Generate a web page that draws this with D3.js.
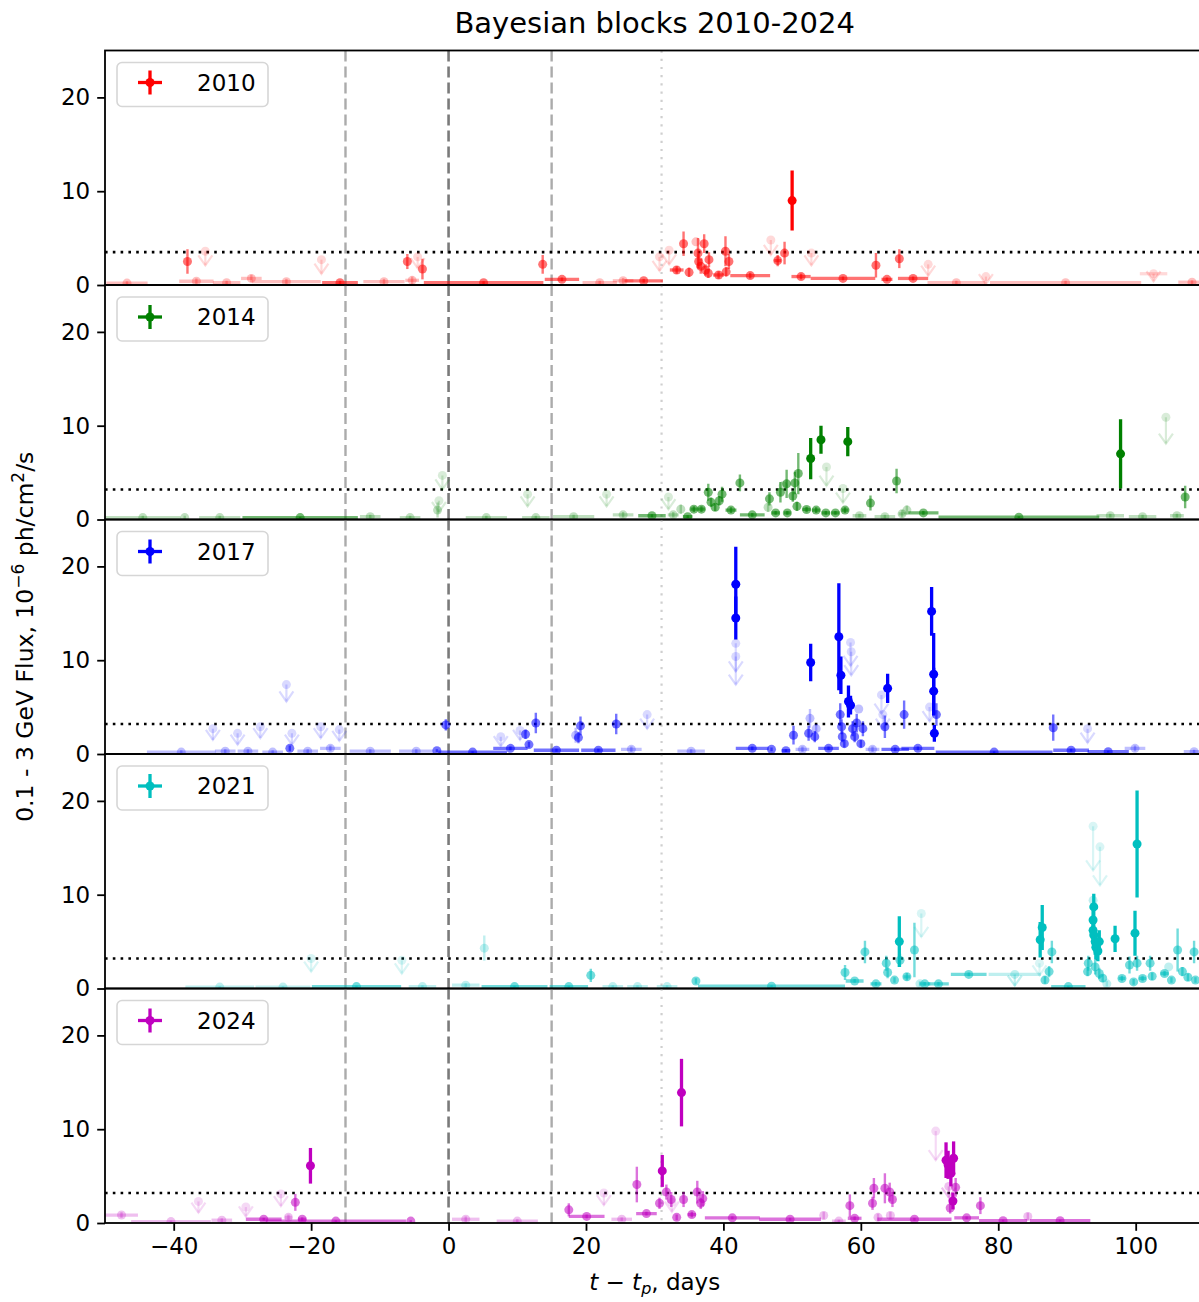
<!DOCTYPE html>
<html><head><meta charset="utf-8">
<script src="https://cdn.jsdelivr.net/npm/d3@7/dist/d3.min.js"></script>
<style>
body{margin:0;background:#fff}
svg{display:block}
text{font-family:"DejaVu Sans",sans-serif;fill:#000}
</style>
</head><body>
<svg id="chart" width="1199" height="1302"></svg>
<script>
// Bayesian-block light curves, one panel per year.
// Row layout: [t - t_p (days), flux (1e-6 ph/cm2/s), error (or arrow length for limits),
//              block half-width (days), significance class 0..3, upper limit flag]
const years = ["2010", "2014", "2017", "2021", "2024"];
const seriesColors = ["#ff0000", "#008000", "#0000ff", "#00bfbf", "#bf00bf"];
const thresholds = [3.5, 3.2, 3.2, 3.2, 3.2];
const refDays = [-15, 0, 15, 31];
const xTicks = [-40, -20, 0, 20, 40, 60, 80, 100];
const yTicks = [0, 10, 20];

const rows2010 = [
  [-46.8,0.2,0.2,3.0,1,0],[-38.0,2.5,1.3,0,2,0],[-36.7,0.4,0.3,2.5,1,0],[-35.4,3.6,1.5,0,0,1],
  [-32.3,0.25,0.2,2.0,1,0],[-28.7,0.7,0.4,1.5,1,0],[-23.6,0.35,0.3,5.0,1,0],[-18.5,2.7,1.5,0,0,1],
  [-15.8,0.25,0.2,2.6,2,0],[-9.4,0.35,0.3,3.0,1,0],[-6.0,2.5,0.8,0,2,0],[-5.3,0.5,0.4,1.0,1,0],
  [-4.5,3.0,1.2,0,0,1],[-3.8,1.7,1.1,0,2,0],[5.1,0.25,0.15,8.7,2,0],[13.7,2.2,1.0,0,2,0],
  [16.5,0.6,0.2,2.5,2,0],[22.0,0.25,0.2,2.5,1,0],[25.4,0.45,0.3,1.5,1,0],[28.4,0.45,0.2,2.8,2,0],
  [30.7,3.0,1.5,0,0,1],[32.1,3.7,1.5,0,0,1],[33.2,1.6,0.4,1.0,2,0],[34.2,4.4,1.3,0,2,0],
  [35.0,1.35,0.5,0,2,0],[36.0,4.6,0,0,1,0],[36.3,3.4,1.6,0,2,0],[36.4,2.5,0.8,0,2,0],
  [36.7,2.0,0.8,0,2,0],[37.2,4.4,1.0,0,2,0],[37.4,1.6,0.6,0,2,0],[37.8,1.25,0.5,0,2,0],
  [37.9,2.7,0.8,0,2,0],[39.3,1.07,0.4,0.8,2,0],[40.3,3.6,1.6,0,2,0],[40.4,1.4,0.5,0,2,0],
  [40.8,2.5,0.8,0,2,0],[43.9,1.0,0.3,2.9,2,0],[46.9,4.8,1.6,0,0,1],[47.9,2.6,0.6,0.5,2,0],
  [48.9,3.4,1.2,0,2,0],[50.0,9.0,3.2,0,3,0],[51.3,0.9,0.3,1.4,2,0],[52.8,3.4,1.3,0,0,1],
  [57.4,0.7,0.2,4.7,2,0],[62.2,2.1,1.3,0,2,0],[63.8,0.6,0.2,0.8,2,0],[65.6,2.8,1.0,0,2,0],
  [67.6,0.7,0.2,2.2,2,0],[69.8,2.2,1.2,0,0,1],[73.9,0.25,0.2,4.2,1,0],[78.2,0.9,0.8,0,0,1],
  [89.8,0.25,0.2,11,1,0],[102.6,1.2,0.8,2.0,0,1],[108.2,0.3,0.2,2.0,1,0]
];
const rows2014 = [
  [-44.5,0.2,0.2,5.5,1,0],[-38.4,0.2,0.2,0,1,0],[-33.3,0.2,0.2,3.0,1,0],[-21.6,0.2,0.1,8.4,2,0],
  [-11.4,0.3,0.2,1.5,1,0],[-5.6,0.2,0.2,1.5,1,0],[-1.6,1.0,0.8,0,1,0],[-1.4,2.0,1.2,0,0,1],
  [-0.9,4.7,1.5,0,0,1],[5.5,0.2,0.2,3.0,1,0],[11.5,2.7,1.3,0,0,1],[12.7,0.2,0.2,2.0,1,0],
  [18.2,0.3,0.2,3.0,1,0],[23.0,2.7,1.3,0,0,1],[25.4,0.5,0.3,1.5,1,0],[29.6,0.4,0.15,2.0,2,0],
  [32.0,2.4,1.3,0,0,1],[32.7,0.5,0.3,0.8,1,0],[33.8,1.1,0.5,0,1,0],[34.8,0.3,0.15,0.7,2,0],
  [35.7,1.1,0.3,0.5,2,0],[36.8,1.1,0.3,0.5,2,0],[37.8,2.9,0.9,0,2,0],[38.2,1.85,0.5,0,2,0],
  [38.8,1.3,0.4,0,2,0],[39.4,2.0,0.5,0,2,0],[39.8,2.7,0.8,0,2,0],[41.1,1.0,0.3,0.8,2,0],
  [42.4,3.9,0.9,0,2,0],[44.2,0.5,0.2,1.8,2,0],[46.7,2.2,0.7,0,2,0],[46.5,1.3,0.5,0,1,0],
  [47.6,0.7,0.2,0.6,2,0],[48.3,2.9,1.1,0,2,0],[48.7,3.6,0,0,1,0],[49.2,3.8,1.5,0,2,0],
  [49.3,0.7,0.2,0.5,2,0],[50.1,2.5,0.6,0,2,0],[50.4,3.9,1.2,0,2,0],[50.7,1.4,0.5,0,2,0],
  [50.9,4.9,2.2,0,2,0],[52.1,1.07,0.3,0.6,2,0],[52.7,6.5,2.2,0,3,0],[53.5,1.0,0.3,0.6,2,0],
  [54.2,8.5,1.5,0,3,0],[54.9,0.7,0.2,0.6,2,0],[55.0,5.6,2.0,0,0,1],[56.3,0.7,0.2,0.6,2,0],
  [57.4,3.3,1.5,0,0,1],[57.7,1.0,0.3,0.5,2,0],[58.1,8.3,1.55,0,3,0],[59.8,0.4,0.2,1.0,1,0],
  [61.4,1.75,0.8,0,2,0],[63.5,0.3,0.2,1.5,1,0],[65.2,4.1,1.3,0,2,0],[66.0,0.6,0.4,0.5,1,0],
  [66.7,1.0,0.5,0,1,0],[69.1,0.7,0.2,2.2,2,0],[83.0,0.25,0.1,11.7,2,0],[96.3,0.4,0.2,2.0,1,0],
  [97.8,7.0,3.7,0,3,0],[101.0,0.3,0.2,2.0,1,0],[104.4,10.9,2.8,0,0,1],[106.0,0.4,0.2,1.0,1,0],
  [107.2,2.4,1.2,0,2,0]
];
const rows2017 = [
  [-38.9,0.2,0.2,5.0,1,0],[-34.3,2.7,1.2,0,0,1],[-32.5,0.3,0.2,1.5,1,0],[-30.7,2.2,1.2,0,0,1],
  [-29.2,0.3,0.2,1.5,1,0],[-27.4,2.9,1.2,0,0,1],[-25.6,0.2,0.2,1.5,1,0],[-23.6,7.4,1.8,0,0,1],
  [-23.1,0.6,0.3,0,2,0],[-22.8,2.2,1.2,0,0,1],[-20.5,0.3,0.2,1.5,1,0],[-18.6,2.9,1.2,0,0,1],
  [-17.2,0.6,0.3,1.5,1,0],[-15.9,2.6,1.2,0,0,1],[-11.4,0.3,0.2,3.0,1,0],[-4.7,0.3,0.2,2.5,1,0],
  [-1.7,0.35,0.15,0,2,0],[-0.4,3.1,0.6,0,2,0],[3.5,0.2,0.1,5.0,2,0],[7.6,1.85,1.0,0,0,1],
  [9.0,0.6,0.2,2.5,2,0],[10.4,2.5,1.0,0,0,1],[11.2,2.1,0.5,0,2,0],[11.7,1.0,0.3,0,2,0],
  [12.7,3.3,1.1,0,2,0],[15.7,0.4,0.15,3.3,2,0],[18.5,2.0,0.8,0,1,0],[18.9,1.75,0.6,0,2,0],
  [19.2,3.0,1.0,0,2,0],[21.8,0.4,0.15,2.5,2,0],[24.4,3.2,1.1,0,2,0],[26.6,0.5,0.3,1.5,1,0],
  [28.9,4.2,1.5,0,0,1],[35.3,0.3,0.2,2.0,1,0],[41.8,18.1,4.0,0,3,0],[41.8,14.5,2.3,0,3,0],
  [41.8,11.8,3.0,0,0,1],[41.8,10.4,3.0,0,0,1],[44.2,0.6,0.2,2.4,2,0],[47.0,0.5,0.2,0,2,0],
  [49.1,0.35,0.15,0.6,2,0],[50.2,2.0,1.0,0,2,0],[51.5,0.5,0.3,1.0,1,0],[52.4,2.2,0.8,0,2,0],
  [52.6,3.8,1.0,0,1,0],[52.7,9.75,2.0,0,3,0],[53.3,1.85,0.6,0,2,0],[53.5,2.7,0.5,0,1,0],
  [55.3,0.6,0.2,1.5,2,0],[56.8,12.5,5.7,0,3,0],[57.0,4.2,1.2,0,2,0],[57.1,8.4,2.0,0,3,0],
  [57.2,2.9,0.8,0,2,0],[57.3,1.85,0.6,0,2,0],[57.6,1.1,0.4,0,2,0],[58.2,5.6,1.7,0,3,0],
  [58.5,5.2,1.0,0,3,0],[58.5,11.9,2.5,0,0,1],[58.6,10.9,2.5,0,0,1],[58.8,2.7,0.8,0,2,0],
  [59.1,1.85,0.6,0,2,0],[59.4,3.3,1.0,0,2,0],[59.7,4.8,0,0,1,0],[60.0,1.1,0.4,0,2,0],
  [60.3,2.7,0.8,0,2,0],[61.7,0.5,0.3,1.0,1,0],[63.0,6.3,2.0,0,0,1],[63.2,4.2,1.5,0,0,1],
  [63.5,2.9,1.2,0,2,0],[63.9,7.0,1.55,0,3,0],[65.0,0.5,0.2,2.0,2,0],[66.3,4.2,1.5,0,2,0],
  [68.3,0.6,0.2,2.4,2,0],[70.0,5.0,1.5,0,0,1],[70.3,15.2,2.6,0,3,0],[70.6,8.5,4.4,0,3,0],
  [70.6,6.7,2.5,0,3,0],[70.7,2.2,0.9,0,3,0],[71.0,4.2,1.2,0,2,0],[79.4,0.2,0.1,8.5,2,0],
  [88.0,2.8,1.4,0,2,0],[90.6,0.4,0.15,2.6,2,0],[93.0,2.7,1.5,0,0,1],[96.0,0.25,0.1,3.0,2,0],
  [99.9,0.6,0.3,1.5,1,0],[108.5,0.25,0.2,1.5,1,0]
];
const rows2021 = [
  [-33.3,0.15,0.1,5.0,1,0],[-24.1,0.15,0.1,4.0,1,0],[-20.0,3.2,1.4,0,0,1],[-13.4,0.2,0.1,6.5,2,0],
  [-6.8,3.0,1.4,0,0,1],[-3.8,0.2,0.15,2.0,1,0],[2.5,0.35,0.2,2.0,1,0],[5.2,4.3,1.35,0,1,0],
  [9.6,0.2,0.1,4.8,2,0],[17.5,0.2,0.1,2.8,2,0],[20.7,1.4,0.7,0,2,0],[23.9,0.2,0.15,1.5,1,0],
  [27.5,0.2,0.15,1.5,1,0],[31.8,0.2,0.15,1.5,1,0],[36.0,0.8,0.3,0,2,0],[47.0,0.25,0.1,10.7,2,0],
  [57.7,1.7,0.8,0,2,0],[59.1,0.8,0.2,1.3,2,0],[60.6,3.9,1.2,0,2,0],[62.2,0.5,0.2,0.8,2,0],
  [63.7,2.7,0.8,0,2,0],[63.9,1.7,0.6,0,2,0],[64.9,0.9,0.3,0,2,0],[65.6,5.0,2.7,0,3,0],
  [65.7,3.0,0.7,0,2,0],[66.7,1.25,0.4,0.5,2,0],[67.8,4.1,2.9,0,2,0],[68.8,8.0,2.5,0,0,1],
  [68.6,0.5,0.3,0,1,0],[69.3,0.5,0.2,0.8,2,0],[71.3,0.5,0.2,1.5,2,0],[75.7,1.5,0.2,2.6,2,0],
  [82.4,1.5,1.2,3.8,1,1],[86.0,2.7,1.3,0,0,1],[86.1,5.2,1.9,0,3,0],[86.4,6.5,2.4,0,3,0],
  [86.8,0.9,0.4,0,2,0],[87.4,1.8,0.6,0,2,0],[87.8,3.9,1.2,0,2,0],[90.2,0.2,0.1,2.5,2,0],
  [93.1,2.7,0.8,0,2,0],[93.0,1.8,0.5,0,2,0],[93.8,17.3,4.7,0,0,1],[94.8,15.1,4.1,0,0,1],
  [93.8,9.4,0,0,1,0],[93.8,7.3,1.8,0,3,0],[93.9,8.7,1.4,0,3,0],[93.8,6.2,1.5,0,3,0],
  [93.9,5.7,1.4,0,3,0],[94.1,5.0,1.4,0,3,0],[94.2,4.4,1.3,0,3,0],[94.5,4.0,1.1,0,3,0],
  [94.7,5.0,1.2,0,3,0],[94.1,2.3,0.8,0,2,0],[94.7,1.6,0.6,0,2,0],[95.2,1.1,0.4,0,2,0],
  [95.8,0.5,0.3,0,1,0],[97.0,5.3,1.4,0,3,0],[98.0,1.07,0.3,0.5,2,0],[99.1,2.5,0.9,0,2,0],
  [99.7,0.7,0.3,0,2,0],[99.9,5.9,2.4,0,3,0],[100.2,15.4,5.7,0,3,0],[100.2,2.7,0.8,0,2,0],
  [101.0,1.07,0.3,0.5,2,0],[102.1,2.7,0.8,0,2,0],[102.4,1.3,0.4,0,2,0],[104.2,1.6,0.3,0.6,2,0],
  [104.8,2.3,0,0,1,0],[105.2,0.9,0.3,0,2,0],[106.1,4.1,2.3,0,2,0],[106.8,1.8,0.5,0,2,0],
  [107.6,1.2,0.4,0,2,0],[108.5,3.9,1.2,0,2,0],[108.7,0.9,0.3,0,2,0]
];
const rows2024 = [
  [-47.6,0.85,0.3,2.4,1,0],[-40.4,0.15,0.1,5.8,1,0],[-36.4,2.3,1.2,0,0,1],[-33.0,0.3,0.2,1.5,1,0],
  [-29.5,1.7,1.0,0,0,1],[-26.9,0.4,0.15,2.6,2,0],[-24.4,3.1,1.3,0,0,1],[-23.3,0.6,0.3,0.5,1,0],
  [-22.3,2.2,0.9,0,2,0],[-21.3,0.4,0.2,0.6,2,0],[-20.1,6.1,1.9,0,3,0],[-16.4,0.2,0.1,10.2,2,0],
  [-5.5,0.2,0.1,0,2,0],[2.5,0.4,0.3,2.0,1,0],[10.0,0.2,0.2,3.0,1,0],[17.5,1.4,0.7,0,2,0],
  [20.1,0.7,0.2,2.6,2,0],[22.6,3.2,1.3,0,0,1],[25.2,0.4,0.2,1.5,1,0],[27.4,4.1,1.9,0,2,0],
  [28.8,1.0,0.2,1.5,2,0],[30.7,2.1,0.6,0,2,0],[31.1,5.55,1.7,0,3,0],[31.7,3.3,0.8,0,2,0],
  [32.4,2.5,0.8,0,2,0],[32.5,2.2,1.0,0,0,1],[33.2,0.6,0.3,0,2,0],[33.9,13.9,3.6,0,3,0],
  [34.2,2.5,0.8,0,2,0],[35.4,0.9,0.3,0.6,2,0],[36.2,3.3,1.2,0,2,0],[36.7,2.1,0.6,0,2,0],
  [37.0,2.6,0.8,0,2,0],[41.3,0.55,0.15,4.0,2,0],[49.7,0.4,0.15,4.5,2,0],[54.6,0.8,0.4,0,1,0],
  [56.8,0.2,0.15,1.0,1,0],[58.4,1.85,1.2,0,2,0],[59.1,0.5,0.2,1.0,2,0],[61.7,2.1,0.7,0,2,0],
  [61.9,3.7,1.1,0,2,0],[62.5,0.6,0.4,0,1,0],[63.5,3.7,1.6,0,2,0],[64.2,3.3,1.0,0,2,0],
  [64.6,2.5,0.8,0,2,0],[64.3,0.8,0.4,0,1,0],[67.8,0.4,0.15,5.4,2,0],[70.9,9.8,3.1,0,0,1],
  [72.4,6.7,1.9,0,3,0],[72.7,6.2,1.5,0,3,0],[73.1,5.3,1.4,0,3,0],[73.5,6.9,1.8,0,3,0],
  [72.8,3.9,1.2,0,1,1],[73.8,3.8,1.0,0,2,0],[73.4,2.35,0.9,0,3,0],[73.0,1.6,0.6,0,2,0],
  [75.4,0.55,0.15,1.8,2,0],[77.4,1.85,0.9,0,2,0],[80.7,0.25,0.1,3.5,2,0],[84.3,0.7,0.4,0,1,0],
  [89.0,0.25,0.1,4.4,2,0]
];
const yearRows = [rows2010, rows2014, rows2017, rows2021, rows2024];

// ---- layout ----
const left = 105, right = 1204.4;
const top0 = 50.5, panelH = 234.5;
const opacityByClass = [0.15, 0.25, 0.55, 1];

const svg = d3.select("#chart");
const x = d3.scaleLinear().domain([-50, 110]).range([left, right]);

svg.append("text").attr("x", (left + right) / 2).attr("y", 33)
  .attr("text-anchor", "middle").style("font-size", "29px")
  .text("Bayesian blocks 2010-2024");

years.forEach((yr, i) => {
  const top = top0 + i * panelH, bottom = top + panelH;
  const y = d3.scaleLinear().domain([0, 25]).range([bottom, top]);
  const color = seriesColors[i];
  const g = svg.append("g");
  const clipId = "clip" + i;
  g.append("clipPath").attr("id", clipId).append("rect")
    .attr("x", left).attr("y", top).attr("width", right - left).attr("height", panelH);

  const plot = g.append("g").attr("clip-path", `url(#${clipId})`);

  // reference epochs
  refDays.forEach(d => {
    const style = d === 0 ? { c: "#7a7a7a", w: 2.6, dash: "11,5" }
      : d === 31 ? { c: "#cfcfcf", w: 2.2, dash: "2.2,6" }
      : { c: "#ababab", w: 2.4, dash: "11,5" };
    plot.append("line").attr("x1", x(d)).attr("x2", x(d)).attr("y1", top).attr("y2", bottom)
      .attr("stroke", style.c).attr("stroke-width", style.w).attr("stroke-dasharray", style.dash);
  });

  // detection threshold
  plot.append("line").attr("x1", left).attr("x2", right)
    .attr("y1", y(thresholds[i])).attr("y2", y(thresholds[i]))
    .attr("stroke", "#000").attr("stroke-width", 2.6).attr("stroke-dasharray", "2.6,5.2");

  // blocks, error bars, markers
  const data = yearRows[i].slice().sort((a, b) => a[4] - b[4]);
  data.forEach(([t, f, e, hw, cls, ul]) => {
    const op = opacityByClass[cls];
    const cx = x(t), cy = y(f);
    const lw = cls === 3 ? 3.3 : 2.4;
    if (hw > 0) {
      plot.append("line").attr("x1", x(t - hw)).attr("x2", x(t + hw)).attr("y1", cy).attr("y2", cy)
        .attr("stroke", color).attr("stroke-width", 3.3).attr("stroke-opacity", op);
    }
    if (ul) {
      const yEnd = y(f - e);
      plot.append("line").attr("x1", cx).attr("x2", cx).attr("y1", cy).attr("y2", yEnd)
        .attr("stroke", color).attr("stroke-width", 2.2).attr("stroke-opacity", op);
      plot.append("path")
        .attr("d", `M${cx - 7},${yEnd - 10}L${cx},${yEnd}L${cx + 7},${yEnd - 10}`)
        .attr("fill", "none").attr("stroke", color).attr("stroke-width", 2.2).attr("stroke-opacity", op);
    } else if (e > 0) {
      plot.append("line").attr("x1", cx).attr("x2", cx).attr("y1", y(f - e)).attr("y2", y(f + e))
        .attr("stroke", color).attr("stroke-width", lw).attr("stroke-opacity", op);
    }
    plot.append("circle").attr("cx", cx).attr("cy", cy).attr("r", 4.5)
      .attr("fill", color).attr("fill-opacity", op);
  });

  // frame
  g.append("rect").attr("x", left).attr("y", top).attr("width", right - left).attr("height", panelH)
    .attr("fill", "none").attr("stroke", "#000").attr("stroke-width", 1.8);

  // y axis
  const ya = g.append("g").attr("transform", `translate(${left},0)`)
    .call(d3.axisLeft(y).tickValues(yTicks).tickSize(7.8).tickPadding(7).tickFormat(d3.format("d")));
  ya.select(".domain").remove();
  ya.selectAll("line").attr("stroke", "#000").attr("stroke-width", 1.8);
  ya.selectAll("text").style("font-size", "23px").attr("fill", "#000")
    .style("font-family", '"DejaVu Sans",sans-serif');

  if (i === years.length - 1) {
    const xa = g.append("g").attr("transform", `translate(0,${bottom})`)
      .call(d3.axisBottom(x).tickValues(xTicks).tickSize(7.8).tickPadding(7)
        .tickFormat(d => d < 0 ? "\u2212" + Math.abs(d) : String(d)));
    xa.select(".domain").remove();
    xa.selectAll("line").attr("stroke", "#000").attr("stroke-width", 1.8);
    xa.selectAll("text").style("font-size", "23px").attr("fill", "#000")
      .style("font-family", '"DejaVu Sans",sans-serif');
  }

  // legend
  const lg = g.append("g").attr("transform", `translate(${left + 12},${top + 12})`);
  lg.append("rect").attr("width", 151).attr("height", 44).attr("rx", 5)
    .attr("fill", "#fff").attr("fill-opacity", 0.8).attr("stroke", "#d6d6d6").attr("stroke-width", 1.6);
  const hx = 33, hy = 20;
  lg.append("line").attr("x1", hx - 12).attr("x2", hx + 12).attr("y1", hy).attr("y2", hy)
    .attr("stroke", color).attr("stroke-width", 3.3);
  lg.append("line").attr("x1", hx).attr("x2", hx).attr("y1", hy - 12).attr("y2", hy + 12)
    .attr("stroke", color).attr("stroke-width", 3.3);
  lg.append("circle").attr("cx", hx).attr("cy", hy).attr("r", 4.5).attr("fill", color);
  lg.append("text").attr("x", 80).attr("y", hy + 8).style("font-size", "23px")
    .attr("fill", "#222").text(yr);
});

// axis titles
const yl = svg.append("text").attr("transform", `translate(33,${top0 + 2.5 * panelH}) rotate(-90)`)
  .attr("text-anchor", "middle").style("font-size", "23.5px");
yl.append("tspan").text("0.1 - 3 GeV Flux, 10");
yl.append("tspan").attr("dy", -9).style("font-size", "17px").text("\u22126");
yl.append("tspan").attr("dy", 9).text(" ph/cm");
yl.append("tspan").attr("dy", -9).style("font-size", "17px").text("2");
yl.append("tspan").attr("dy", 9).text("/s");

const xl = svg.append("text").attr("x", (left + right) / 2).attr("y", 1290)
  .attr("text-anchor", "middle").style("font-size", "23px");
xl.append("tspan").style("font-style", "italic").text("t");
xl.append("tspan").text(" \u2212 ");
xl.append("tspan").style("font-style", "italic").text("t");
xl.append("tspan").attr("dy", 4).style("font-size", "16px").style("font-style", "italic").text("p");
xl.append("tspan").attr("dy", -4).text(", days");
</script>
</body></html>
